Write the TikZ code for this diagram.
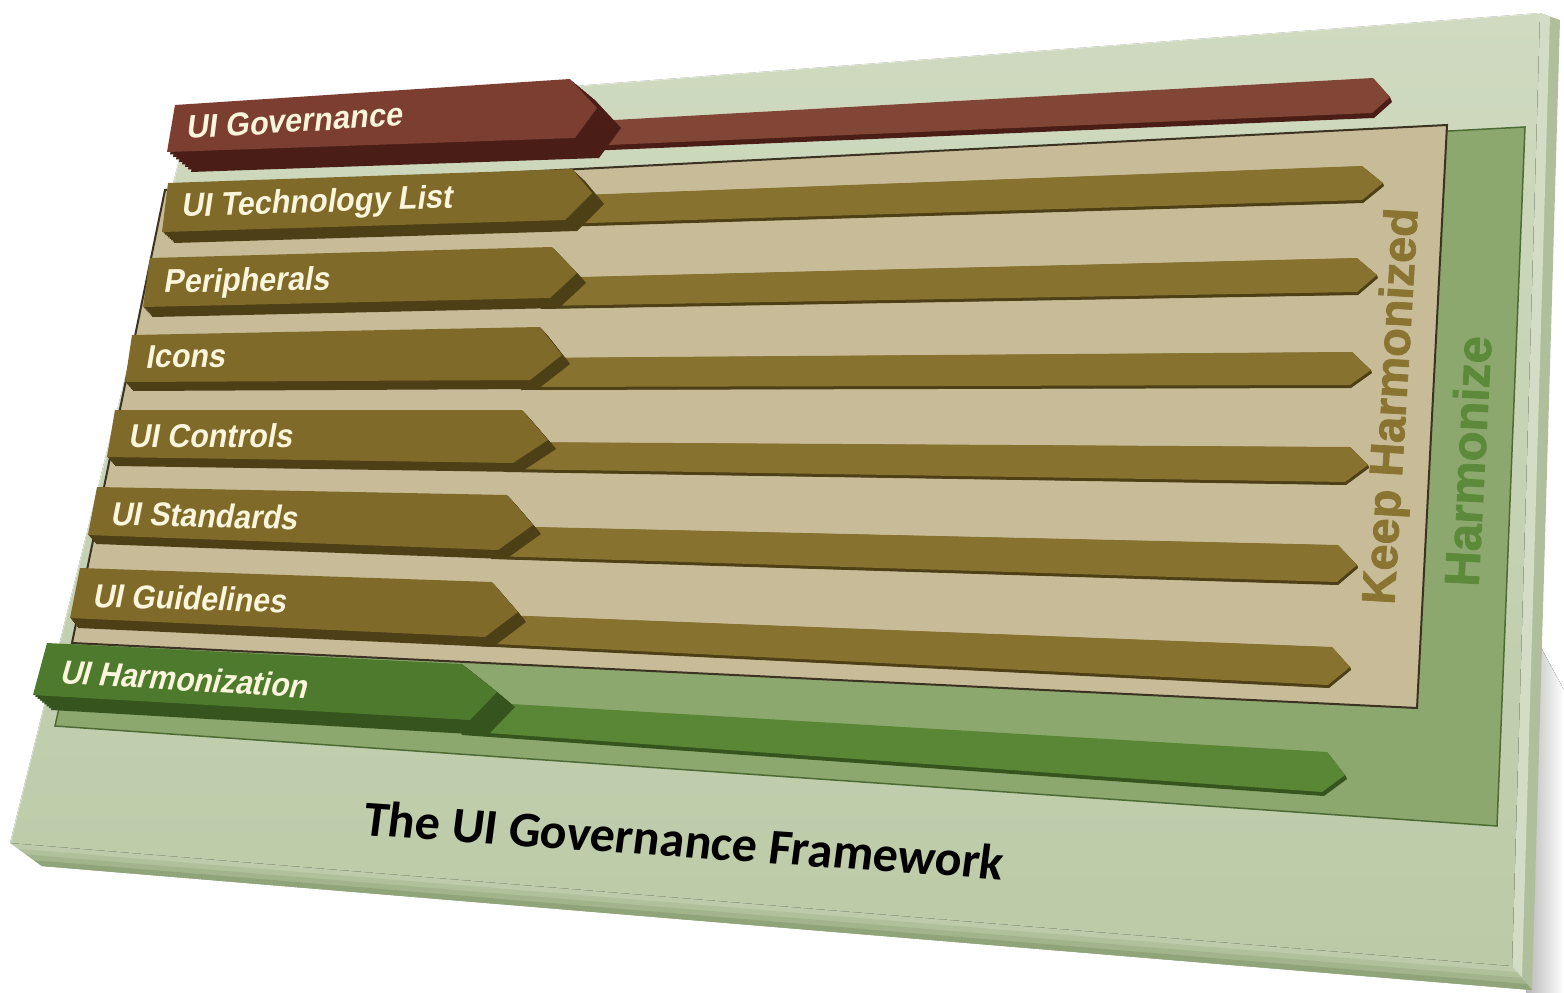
\documentclass[tikz,border=0pt]{standalone}
\usepackage{fontspec}
\newfontfamily\barfont{Liberation Sans}
\newfontfamily\sidefont{Liberation Sans}[BoldFeatures={FakeBold=1.6}]
\newfontfamily\capfont{Carlito}
\usetikzlibrary{calc}

\definecolor{boardtop}{HTML}{CFDAC0}
\definecolor{boardbot}{HTML}{BCCAA7}
\definecolor{bevelA}{HTML}{BECBAA}
\definecolor{bevelB}{HTML}{B0C09B}
\definecolor{bevelC}{HTML}{A1B48C}
\definecolor{bevelD}{HTML}{90A47A}
\definecolor{sideA}{HTML}{D3DDC6}
\definecolor{sideB}{HTML}{AFBF9B}
\definecolor{harmfill}{HTML}{8DA86F}
\definecolor{harmline}{HTML}{4C6B34}
\definecolor{tanfill}{HTML}{C8BC98}
\definecolor{tanline}{HTML}{3B3222}
\definecolor{maroonface}{HTML}{7B3E31}
\definecolor{maroonbar}{HTML}{824637}
\definecolor{maroondark}{HTML}{4A1E16}
\definecolor{oliveface}{HTML}{7F6A2A}
\definecolor{olivebar}{HTML}{88722F}
\definecolor{olivedark}{HTML}{4D3F16}
\definecolor{greenface}{HTML}{4E7A2E}
\definecolor{greenbar}{HTML}{5A8736}
\definecolor{greendark}{HTML}{35541E}
\definecolor{keeptext}{HTML}{8A7431}
\definecolor{harmtext}{HTML}{5C8A3A}
\definecolor{labeltext}{HTML}{FBF5DC}

% swept extrusion of a closed outline: colour, shift x, shift y, outline
\newcommand\slab[4]{%
  \foreach \k in {1,...,8}{\fill[#1, shift={({#2*\k/8},{#3*\k/8})}] #4;}}

\tikzset{
  barlabel/.style={anchor=base west, inner sep=0pt, text=labeltext,
    font=\barfont\bfseries\fontsize{33}{33}\selectfont, xslant=0.18, xscale=0.92},
  sidetext/.style={anchor=base, inner sep=0pt},
  tanpanel/.style={draw=tanline, line width=2pt, fill=tanfill, line join=miter},
  harmpanel/.style={draw=harmline, line width=1.5pt, fill=harmfill},
}

\begin{document}
\begin{tikzpicture}[x=1pt,y=-1pt]
\useasboundingbox (0,0) rectangle (1564,993);
\fill[white] (0,0) rectangle (1564,993);

% soft cast shadow at the lower right
\fill[left color=black!28, right color=white] (1526,620) -- (1564,690) -- (1564,993) -- (1526,993) -- cycle;

% board corners
\coordinate (fTL) at (190,115);
\coordinate (fTR) at (1540,13);
\coordinate (fBR) at (1512,966);
\coordinate (fBL) at (10,843);
\coordinate (oTR) at (1560,20);
\coordinate (oBR) at (1532,990);
\coordinate (oBL) at (42,866);

% right edge of the board
\fill[sideB] (fTR) -- (oTR) -- (oBR) -- (fBR) -- cycle;
\fill[sideA] (fTR) -- ($(fTR)!0.5!(oTR)$) -- ($(fBR)!0.5!(oBR)$) -- (fBR) -- cycle;
% lower edge of the board, light to dark
\foreach \a/\c in {0/bevelA, 0.25/bevelB, 0.5/bevelC, 0.75/bevelD}
  \fill[\c] ($(fBL)!\a!(oBL)$) -- ($(fBR)!\a!(oBR)$) -- (oBR) -- (oBL) -- cycle;
% front face
\fill[top color=boardtop, bottom color=boardbot] (fTL) -- (fTR) -- (fBR) -- (fBL) -- cycle;
\draw[white, opacity=0.5, line width=1.5pt] (fBL) -- (fTL) -- (fTR);

% Harmonize panel and Keep Harmonized panel
\path[harmpanel] (172,198) -- (1525,127) -- (1497,826) -- (55,726) -- cycle;
\path[tanpanel] (165,190) -- (1447,125) -- (1417,708) -- (72,643) -- cycle;

\node[sidetext, text=keeptext, font=\sidefont\bfseries\fontsize{47}{47}\selectfont, rotate=86.6] (keep) at (1406,407) {Keep Harmonized};
\node[sidetext, text=harmtext, font=\sidefont\bfseries\fontsize{49}{49}\selectfont, rotate=87] (harm) at (1485,462) {Harmonize};

% UI Governance
\slab{maroondark}{2}{5}{(560,123) -- (1373,78) -- (1390,97) -- (1372,113) -- (560,147) -- cycle}
\fill[maroonbar] (560,123) -- (1373,78) -- (1390,97) -- (1372,113) -- (560,147) -- cycle;
\slab{maroondark}{24}{20}{(175,105) -- (570,79) -- (597,108) -- (575,138) -- (167,152) -- cycle}
\fill[maroonface] (175,105) -- (570,79) -- (597,108) -- (575,138) -- (167,152) -- cycle;
\node[barlabel, rotate=3.3] (tgov) at (186,139) {UI Governance};

% UI Technology List
\slab{olivedark}{1}{3}{(555,196) -- (1362,166) -- (1383,183) -- (1362,200) -- (555,224) -- cycle}
\fill[olivebar] (555,196) -- (1362,166) -- (1383,183) -- (1362,200) -- (555,224) -- cycle;
\slab{olivedark}{12}{11}{(168,183) -- (572,169) -- (592,193) -- (565,220) -- (162,232) -- cycle}
\fill[oliveface] (168,183) -- (572,169) -- (592,193) -- (565,220) -- (162,232) -- cycle;
\node[barlabel, rotate=1.8] (ttech) at (181,217) {UI Technology List};

% Peripherals
\slab{olivedark}{1}{3}{(540,278) -- (1357,258) -- (1377,275) -- (1357,292) -- (540,306) -- cycle}
\fill[olivebar] (540,278) -- (1357,258) -- (1377,275) -- (1357,292) -- (540,306) -- cycle;
\slab{olivedark}{9}{10}{(150,258) -- (552,247) -- (577,273) -- (550,298) -- (143,307) -- cycle}
\fill[oliveface] (150,258) -- (552,247) -- (577,273) -- (550,298) -- (143,307) -- cycle;
\node[barlabel, rotate=1] (tper) at (163,293) {Peripherals};

% Icons
\slab{olivedark}{1}{3}{(520,358) -- (1352,352) -- (1371,370) -- (1350,385) -- (520,387) -- cycle}
\fill[olivebar] (520,358) -- (1352,352) -- (1371,370) -- (1350,385) -- (520,387) -- cycle;
\slab{olivedark}{8}{9}{(132,335) -- (540,327) -- (562,355) -- (530,380) -- (125,382) -- cycle}
\fill[oliveface] (132,335) -- (540,327) -- (562,355) -- (530,380) -- (125,382) -- cycle;
\node[barlabel, rotate=0.5] (tico) at (145,368) {Icons};

% UI Controls
\slab{olivedark}{1}{3}{(505,442) -- (1350,447) -- (1368,465) -- (1345,482) -- (505,469) -- cycle}
\fill[olivebar] (505,442) -- (1350,447) -- (1368,465) -- (1345,482) -- (505,469) -- cycle;
\slab{olivedark}{8}{9}{(115,410) -- (522,410) -- (548,440) -- (513,463) -- (107,457) -- cycle}
\fill[oliveface] (115,410) -- (522,410) -- (548,440) -- (513,463) -- (107,457) -- cycle;
\node[barlabel] (tctl) at (128,447) {UI Controls};

% UI Standards
\slab{olivedark}{1}{3}{(490,526) -- (1338,545) -- (1357,565) -- (1337,582) -- (490,556) -- cycle}
\fill[olivebar] (490,526) -- (1338,545) -- (1357,565) -- (1337,582) -- (490,556) -- cycle;
\slab{olivedark}{8}{9}{(97,487) -- (507,495) -- (533,525) -- (498,550) -- (88,535) -- cycle}
\fill[oliveface] (97,487) -- (507,495) -- (533,525) -- (498,550) -- (88,535) -- cycle;
\node[barlabel, rotate=-1.3] (tstd) at (110,525) {UI Standards};

% UI Guidelines
\slab{olivedark}{1}{3}{(475,614) -- (1332,647) -- (1350,667) -- (1328,685) -- (475,643) -- cycle}
\fill[olivebar] (475,614) -- (1332,647) -- (1350,667) -- (1328,685) -- (475,643) -- cycle;
\slab{olivedark}{8}{10}{(80,568) -- (492,582) -- (518,612) -- (485,637) -- (70,618) -- cycle}
\fill[oliveface] (80,568) -- (492,582) -- (518,612) -- (485,637) -- (70,618) -- cycle;
\node[barlabel, rotate=-1.5] (tgui) at (92,607) {UI Guidelines};

% UI Harmonization
\slab{greendark}{2}{4}{(460,701) -- (1327,752) -- (1345,775) -- (1322,792) -- (460,731) -- cycle}
\fill[greenbar] (460,701) -- (1327,752) -- (1345,775) -- (1322,792) -- (460,731) -- cycle;
\slab{greendark}{18}{15}{(47,643) -- (462,664) -- (497,692) -- (470,720) -- (33,695) -- cycle}
\fill[greenface] (47,643) -- (462,664) -- (497,692) -- (470,720) -- (33,695) -- cycle;
\node[barlabel, rotate=-3.2, xslant=0.06] (thar) at (59,683) {UI Harmonization};

% caption on the board
\node[anchor=base west, inner sep=0pt, font=\capfont\bfseries\fontsize{50}{50}\selectfont, rotate=-4, xslant=0.06] (title) at (362,835) {The UI Governance Framework};
\end{tikzpicture}
\end{document}
